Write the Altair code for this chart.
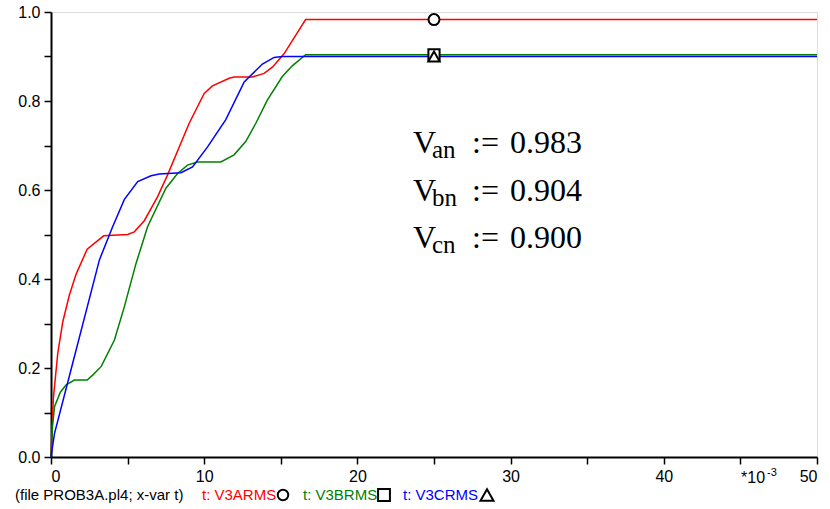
import altair as alt
import pandas as pd

# ---- data (x in ms, i.e. *10^-3 s) ----
a_x = [0, 0.15, 0.44, 0.77, 1.2, 1.64, 2.36, 3.44, 5.0, 5.44, 6.09, 6.96, 7.61, 9.02, 10.0, 10.54, 11.63, 11.95, 13.15, 13.91, 14.45, 15.21, 16.62, 50]
a_y = [0, 0.13, 0.233, 0.304, 0.364, 0.411, 0.467, 0.497, 0.500, 0.506, 0.531, 0.585, 0.634, 0.750, 0.817, 0.834, 0.851, 0.854, 0.854, 0.862, 0.876, 0.906, 0.983, 0.983]

b_x = [0, 0.1, 0.23, 0.6, 0.99, 1.53, 2.36, 2.72, 3.27, 4.14, 4.79, 5.55, 6.31, 7.5, 8.26, 8.91, 9.56, 11.09, 11.95, 12.71, 13.37, 14.12, 15.1, 15.75, 16.62, 50]
b_y = [0, 0.07, 0.113, 0.145, 0.162, 0.173, 0.173, 0.184, 0.203, 0.263, 0.338, 0.435, 0.518, 0.604, 0.637, 0.656, 0.663, 0.663, 0.679, 0.709, 0.750, 0.802, 0.855, 0.879, 0.904, 0.904]

c_x = [0, 0.23, 1.2, 3.16, 4.03, 4.79, 5.66, 6.53, 7.07, 8.48, 9.24, 10.22, 11.41, 12.61, 13.8, 14.56, 15.1, 50]
c_y = [0, 0.053, 0.182, 0.443, 0.518, 0.579, 0.619, 0.632, 0.636, 0.639, 0.652, 0.697, 0.758, 0.843, 0.883, 0.898, 0.900, 0.900]

series = ["t: V3ARMS", "t: V3BRMS", "t: V3CRMS"]
colors = ["#ff0000", "#008000", "#0000ff"]
shapes = ["circle", "square", "triangle-up"]
marker_x = 25
final_vals = [0.983, 0.904, 0.900]

subs = ["an", "bn", "cn"]
val_text = ["0.983", "0.904", "0.900"]

x_ticks = [0, 5, 10, 15, 20, 25, 30, 35, 40, 45, 50]
y_ticks = [0, 0.1, 0.2, 0.3, 0.4, 0.5, 0.6, 0.7, 0.8, 0.9, 1.0]

rows = []
for s, xs, ys in zip(series, [a_x, b_x, c_x], [a_y, b_y, c_y]):
    for i, (xv, yv) in enumerate(zip(xs, ys)):
        rows.append({"series": s, "x": xv, "y": yv, "o": i})
df = pd.DataFrame(rows)

W, H = 766, 445

xscale = alt.Scale(domain=[0, 50], nice=False, zero=False)
yscale = alt.Scale(domain=[0, 1], nice=False, zero=False)
cscale = alt.Scale(domain=series, range=colors)

xaxis = alt.Axis(values=x_ticks, labelExpr="datum.value % 10 == 0 ? datum.label : ''",
                 title=None, grid=False, domainColor="black", domainWidth=2,
                 tickColor="black", tickWidth=1.5, tickSize=7, labelPadding=4,
                 labelFont="Liberation Sans", labelFontSize=16, labelColor="black")
yaxis = alt.Axis(values=y_ticks,
                 labelExpr="round(datum.value*10) % 2 == 0 ? format(datum.value, '.1f') : ''",
                 title=None, grid=False, domainColor="black", domainWidth=2,
                 tickColor="black", tickWidth=1.5, tickSize=7, labelPadding=4,
                 labelFont="Liberation Sans", labelFontSize=16, labelColor="black")

lines = alt.Chart(df).mark_line(strokeWidth=1.5).encode(
    x=alt.X("x:Q", scale=xscale, axis=xaxis),
    y=alt.Y("y:Q", scale=yscale, axis=yaxis),
    color=alt.Color("series:N", scale=cscale, legend=None),
    order="o:Q",
    detail="series:N",
)

mk = pd.DataFrame({"series": series, "x": [marker_x] * 3, "y": final_vals, "shape": shapes})
markers = alt.Chart(mk).mark_point(filled=False, fill="white", fillOpacity=1,
                                   stroke="black", strokeWidth=2, opacity=1).encode(
    x=alt.X("x:Q", scale=xscale),
    y=alt.Y("y:Q", scale=yscale),
    shape=alt.Shape("shape:N", scale=None, legend=None),
    size=alt.Size("shape:N", scale=alt.Scale(domain=shapes, range=[120, 130, 90]), legend=None),
)

layers = [lines, markers]


def txt(text, x, y, size, color="black", font="Liberation Sans", align="left", baseline="middle"):
    d = pd.DataFrame({"t": [text]})
    return alt.Chart(d).mark_text(align=align, baseline=baseline, font=font,
                                  fontSize=size, color=color).encode(
        x=alt.value(x), y=alt.value(y), text="t:N")


# annotation block (serif)
for i, (sb, vt) in enumerate(zip(subs, val_text)):
    by = 141 + i * 47.7
    layers.append(txt("V", 362, by, 32, font="Liberation Serif", baseline="alphabetic"))
    layers.append(txt(sb, 381, by + 5, 25, font="Liberation Serif", baseline="alphabetic"))
    layers.append(txt(":=", 421, by, 32, font="Liberation Serif", baseline="alphabetic"))
    layers.append(txt(vt, 459, by, 32, font="Liberation Serif", baseline="alphabetic"))

# x-axis multiplier label
layers.append(txt("*10", 690, 466, 16, baseline="middle"))
layers.append(txt("-3", 716, 461, 11, baseline="middle"))

# bottom legend row
leg_y = 483
layers.append(txt("(file PROB3A.pl4; x-var t)", -36, leg_y, 15))
leg_tx = [151, 252, 352]
leg_mx = [232, 333, 436]
leg_sz = [110, 140, 170]
for s, c, shp, tx, mx, sz in zip(series, colors, shapes, leg_tx, leg_mx, leg_sz):
    layers.append(txt(s, tx, leg_y, 15, color=c))
    d = pd.DataFrame({"t": [s]})
    layers.append(alt.Chart(d).mark_point(shape=shp, filled=False, stroke="black",
                                          strokeWidth=2, size=sz, opacity=1).encode(
        x=alt.value(mx), y=alt.value(leg_y)))

chart = alt.layer(*layers).properties(
    width=W, height=H,
    autosize=alt.AutoSizeParams(type="none"),
    padding={"left": 51, "top": 12, "right": 13, "bottom": 52},
).configure_view(stroke="black", strokeWidth=2).configure(background="white")

chart.save("out.html", embed_options={"renderer": "svg", "actions": False})
